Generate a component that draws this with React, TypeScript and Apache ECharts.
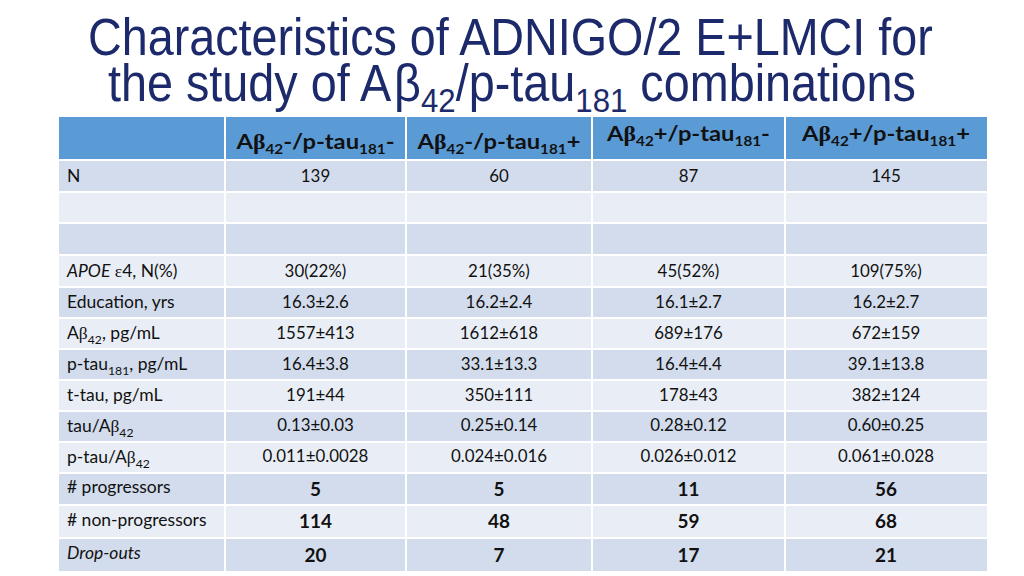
import React, { useEffect, useRef } from "react";
import * as echarts from "echarts";

// ---------- data ----------
// markup: _{..} subscript, ~{..} serif glyph, *{..} italic
const titleLine1 = "Characteristics of ADNIGO/2 E+LMCI for";
const titleLine2 = "the study of A~{β}_{42}/p-tau_{181} combinations";
const abSigns = ["-", "-", "+", "+"];
const ptauSigns = ["-", "+", "-", "+"];
const rowLabels = [
  "N",
  "",
  "",
  "*{APOE} ~{ε}4, N(%)",
  "Education, yrs",
  "A~{β}_{42}, pg/mL",
  "p-tau_{181}, pg/mL",
  "t-tau, pg/mL",
  "tau/A~{β}_{42}",
  "p-tau/A~{β}_{42}",
  "# progressors",
  "# non-progressors",
  "*{Drop-outs}",
];
const nCounts = ["139", "60", "87", "145"];
const blankRow = ["", "", "", ""];
const apoeE4 = ["30(22%)", "21(35%)", "45(52%)", "109(75%)"];
const educationYrs = ["16.3±2.6", "16.2±2.4", "16.1±2.7", "16.2±2.7"];
const ab42 = ["1557±413", "1612±618", "689±176", "672±159"];
const ptau181 = ["16.4±3.8", "33.1±13.3", "16.4±4.4", "39.1±13.8"];
const ttau = ["191±44", "350±111", "178±43", "382±124"];
const tauAb = ["0.13±0.03", "0.25±0.14", "0.28±0.12", "0.60±0.25"];
const ptauAb = ["0.011±0.0028", "0.024±0.016", "0.026±0.012", "0.061±0.028"];
const progressors = [5, 5, 11, 56];
const nonProgressors = [114, 48, 59, 68];
const dropOuts = [20, 7, 17, 21];

const rowValues: (string | number)[][] = [
  nCounts, blankRow, blankRow, apoeE4, educationYrs, ab42, ptau181, ttau,
  tauAb, ptauAb, progressors, nonProgressors, dropOuts,
];
const boldRows = [10, 11, 12];

// ---------- layout ----------
const colEdges = [59, 225, 406, 592, 785, 987];
const headerTop = 117;
const rowEdges = [160, 192, 223, 255, 287, 318, 349, 380, 411, 442, 473, 505, 538, 572];
const headerBaselines = [149, 149, 141, 141];
const headerRefWidth = 158; // width of first header text
const labelRefWidth = 108; // width of "Education, yrs"
const valueRefWidth = 106; // width of "0.011±0.0028"

const COLORS = {
  title: "#1c2a6b",
  header: "#5b9bd5",
  dark: "#d2dcec",
  light: "#e9eef6",
  text: "#111111",
};
const BODY = "Lato";
const SERIF = "Liberation Serif";
const SANS = "Liberation Sans";
const CENTRAL: Record<string, number> = { Lato: 0.387, "Liberation Serif": 0.338, "Liberation Sans": 0.347 };

type Seg = { t: string; sub?: boolean; serif?: boolean; italic?: boolean };

function parse(s: string): Seg[] {
  const out: Seg[] = [];
  const re = /([_~*])\{([^}]*)\}/g;
  let last = 0;
  let m: RegExpExecArray | null;
  while ((m = re.exec(s))) {
    if (m.index > last) out.push({ t: s.slice(last, m.index) });
    const k = m[1];
    out.push({ t: m[2], sub: k === "_", serif: k === "~", italic: k === "*" });
    last = m.index + m[0].length;
  }
  if (last < s.length) out.push({ t: s.slice(last) });
  return out;
}

let ctx: CanvasRenderingContext2D | null = null;
function measure(t: string, size: number, family: string, bold: boolean, italic: boolean) {
  if (!ctx) ctx = document.createElement("canvas").getContext("2d");
  ctx!.font = `${italic ? "italic " : ""}${bold ? "bold " : ""}${size}px "${family}"`;
  return ctx!.measureText(t).width;
}

type LineOpts = {
  size: number;
  subSize: number;
  subShift: number;
  family: string;
  bold?: boolean;
  color: string;
  align: "left" | "center";
  x: number;
  baseline: number;
  width?: number;
  scale?: number;
};

function layout(src: string, o: LineOpts) {
  return parse(src).map((s) => {
    const size = s.sub ? o.subSize : o.size;
    const family = s.serif && o.family !== SANS ? SERIF : o.family;
    const w = measure(s.t, size, family, !!o.bold, !!s.italic);
    return { s, size, family, w };
  });
}
function naturalWidth(src: string, o: LineOpts) {
  return layout(src, o).reduce((a, b) => a + b.w, 0);
}

function textLine(src: string, o: LineOpts): any[] {
  const items = layout(src, o);
  const natural = items.reduce((a, b) => a + b.w, 0);
  const scale = o.width ? o.width / natural : o.scale ?? 1;
  const total = natural * scale;
  let x = o.align === "center" ? o.x - total / 2 : o.x;
  const els: any[] = [];
  for (const it of items) {
    const base = o.baseline + (it.s.sub ? o.subShift : 0);
    const cy = base - (CENTRAL[it.family] ?? 0.36) * it.size;
    els.push({
      type: "text",
      x,
      y: cy,
      scaleX: scale,
      silent: true,
      style: {
        text: it.s.t,
        fontSize: it.size,
        fontFamily: it.family,
        fontWeight: o.bold ? "bold" : "normal",
        fontStyle: it.s.italic ? "italic" : "normal",
        fill: o.color,
        align: "left",
        verticalAlign: "middle",
      },
    });
    x += it.w * scale;
  }
  return els;
}

function buildElements(): any[] {
  const els: any[] = [];
  // title
  els.push(...textLine(titleLine1, {
    size: 51, subSize: 34, subShift: 10, family: SANS, color: COLORS.title,
    align: "center", x: 512, baseline: 55, width: 848,
  }));
  els.push(...textLine(titleLine2, {
    size: 51, subSize: 34, subShift: 11, family: SANS, color: COLORS.title,
    align: "center", x: 512, baseline: 101, width: 808,
  }));

  // header cells
  for (let c = 0; c < 5; c++) {
    els.push({
      type: "rect", silent: true,
      shape: { x: colEdges[c] + (c ? 1 : 0), y: headerTop, width: colEdges[c + 1] - colEdges[c] - (c ? 1 : 0) - (c < 4 ? 1 : 0), height: rowEdges[0] - headerTop - 1 },
      style: { fill: COLORS.header },
    });
  }
  // body cells
  for (let r = 0; r < rowEdges.length - 1; r++) {
    for (let c = 0; c < 5; c++) {
      const x0 = colEdges[c] + (c ? 1 : 0);
      const x1 = colEdges[c + 1] - (c < 4 ? 1 : 0);
      els.push({
        type: "rect", silent: true,
        shape: { x: x0, y: rowEdges[r] + 1, width: x1 - x0, height: rowEdges[r + 1] - rowEdges[r] - 2 },
        style: { fill: r % 2 === 0 ? COLORS.dark : COLORS.light },
      });
    }
  }
  // header texts
  const headerOpts = (g: number): LineOpts => ({
    size: 21, subSize: 13.5, subShift: 5, family: BODY, bold: true, color: COLORS.text,
    align: "center", x: (colEdges[g + 1] + colEdges[g + 2]) / 2, baseline: headerBaselines[g],
  });
  const headerLabels = abSigns.map((a, g) => `A~{β}_{42}${a}/p-tau_{181}${ptauSigns[g]}`);
  const headerScale = headerRefWidth / naturalWidth(headerLabels[0], headerOpts(0));
  headerLabels.forEach((label, g) => {
    els.push(...textLine(label, { ...headerOpts(g), scale: headerScale }));
  });

  // body texts
  const labelBase: LineOpts = {
    size: 16.5, subSize: 11.5, subShift: 4.5, family: BODY, color: COLORS.text,
    align: "left", x: 67, baseline: 0,
  };
  const valueBase: LineOpts = {
    size: 16.5, subSize: 11.5, subShift: 4.5, family: BODY, color: COLORS.text,
    align: "center", x: 0, baseline: 0,
  };
  const labelScale = labelRefWidth / naturalWidth(rowLabels[4], labelBase);
  const valueScale = valueRefWidth / naturalWidth(ptauAb[0], valueBase);

  for (let r = 0; r < rowLabels.length; r++) {
    const mid = (rowEdges[r] + rowEdges[r + 1]) / 2;
    const bold = boldRows.includes(r);
    if (rowLabels[r]) {
      els.push(...textLine(rowLabels[r], {
        ...labelBase, scale: labelScale, baseline: mid + 6 - (bold ? 1.5 : 0),
      }));
    }
    rowValues[r].forEach((v, c) => {
      const s = String(v);
      if (!s) return;
      els.push(...textLine(s, {
        ...valueBase,
        size: bold ? 18.5 : 16.5,
        bold,
        scale: valueScale,
        x: (colEdges[c + 1] + colEdges[c + 2]) / 2,
        baseline: mid + (bold ? 7 : 6) - (r >= 8 && r <= 9 ? 1 : 0),
      }));
    });
  }
  return els;
}

export default function App() {
  const ref = useRef<HTMLDivElement>(null);
  useEffect(() => {
    if (!ref.current) return;
    const chart = echarts.init(ref.current, undefined, { renderer: "svg" });
    chart.setOption({
      animation: false,
      backgroundColor: "#ffffff",
      graphic: { elements: buildElements() },
    });
    return () => chart.dispose();
  }, []);
  return (
    <div
      ref={ref}
      style={{ position: "fixed", left: 0, top: 0, width: 1024, height: 576, background: "#fff" }}
    />
  );
}
